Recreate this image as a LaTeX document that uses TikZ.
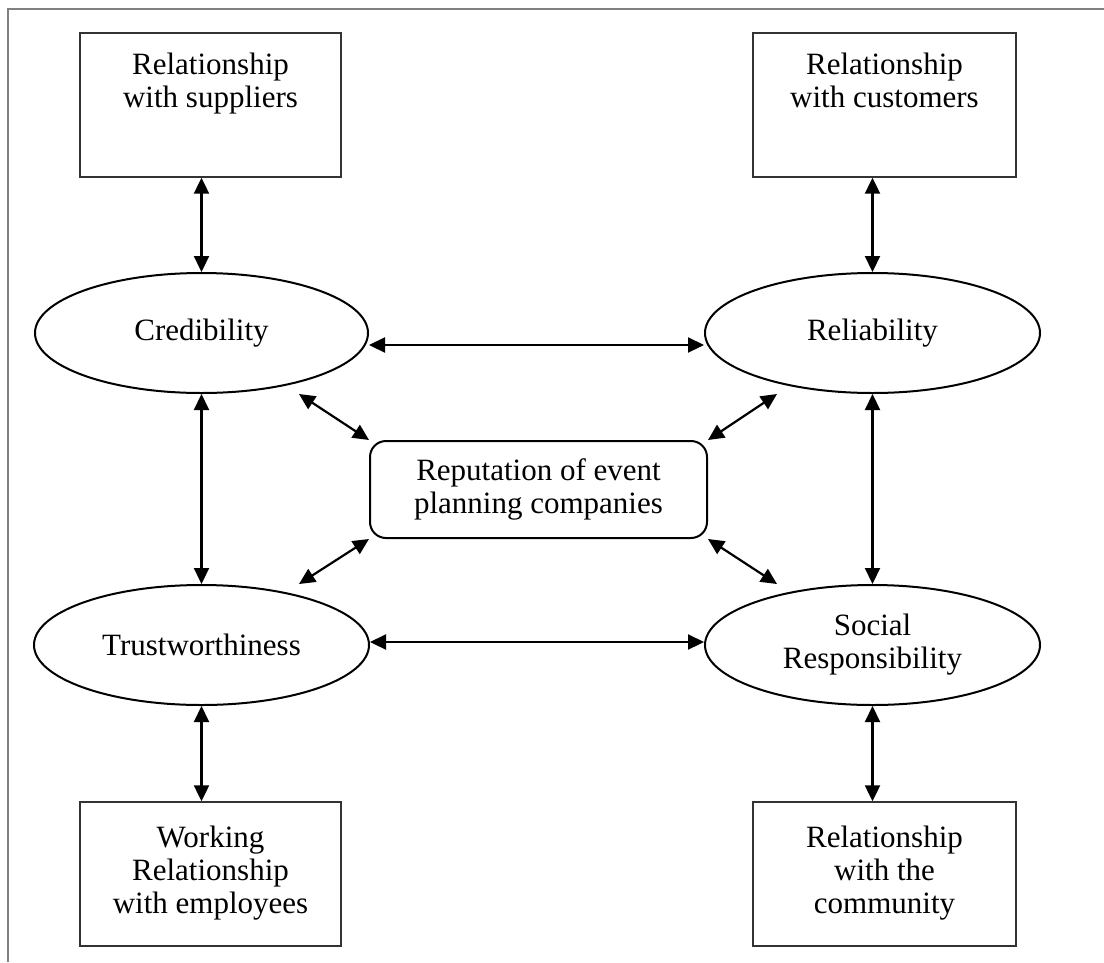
\documentclass[tikz,border=0pt]{standalone}
\usepackage{fontspec}
\setmainfont{Liberation Serif}
\usetikzlibrary{shapes.geometric,arrows.meta}
\begin{document}
\begin{tikzpicture}[x=1pt,y=-1pt,
  every node/.style={font=\fontsize{31}{33}\selectfont},
  plainbox/.style={draw=black!80,line width=1.4pt,rectangle,inner sep=0pt,minimum height=144pt},
  txt/.style={align=center,inner sep=0pt,anchor=north},
  ell/.style={draw=black,line width=2pt,ellipse,inner sep=0pt,minimum width=335pt,minimum height=120pt,align=center},
  repbox/.style={draw=black,line width=2pt,rectangle,rounded corners=16pt,inner sep=0pt,minimum width=337pt,minimum height=97pt,align=center},
  arr/.style={{Triangle[length=16pt,width=15pt]}-{Triangle[length=16pt,width=15pt]},line width=2.2pt},
  framec/.style={draw=black!50,line width=2pt}]
\useasboundingbox (0,0) rectangle (1104,962);
\draw[framec] (8,962) -- (8,9) -- (1104,9);

\node[plainbox,minimum width=261pt] (sup) at (210.5,105) {};
\node[txt] (supT) at (210.5,52.5) {Relationship\\with suppliers};
\node[plainbox,minimum width=263pt] (cus) at (884.5,105) {};
\node[txt] (cusT) at (884.5,52.5) {Relationship\\with customers};

\node[ell,minimum width=333pt] (cred) at (201.5,333) {Credibility};
\node[ell] (rel) at (872.5,333) {Reliability};
\node[ell] (trust) at (201.5,645) {Trustworthiness};
\node[ell] (soc) at (872.5,645) {Social\\Responsibility};

\node[repbox] (rep) at (538.5,489.5) {Reputation of event\\planning companies};

\node[plainbox,minimum width=261pt] (emp) at (210.5,874) {};
\node[txt] (empT) at (210.5,825.5) {Working\\Relationship\\with employees};
\node[plainbox,minimum width=263pt] (com) at (884.5,874) {};
\node[txt] (comT) at (884.5,825.5) {Relationship\\with the\\community};

\draw[arr] (cred.north) -- (cred.north |- sup.south);
\draw[arr] (rel.north) -- (rel.north |- cus.south);
\draw[arr] ([yshift=-12pt]cred.east) -- ([yshift=-12pt]rel.west);
\draw[arr] ([yshift=3pt]trust.east) -- ([yshift=3pt]soc.west);
\draw[arr] (cred.south) -- (trust.north);
\draw[arr] (rel.south) -- (soc.north);
\draw[arr] (trust.south) -- (trust.south |- emp.north);
\draw[arr] (soc.south) -- (soc.south |- com.north);

\coordinate (d1) at (299,394);
\coordinate (d2) at (299,584);
\coordinate (d3) at (777,394);
\coordinate (d4) at (777,584);
\draw[arr] (rep.north west) -- (d1);
\draw[arr] (rep.south west) -- (d2);
\draw[arr] (rep.north east) -- (d3);
\draw[arr] (rep.south east) -- (d4);
\end{tikzpicture}
\end{document}
